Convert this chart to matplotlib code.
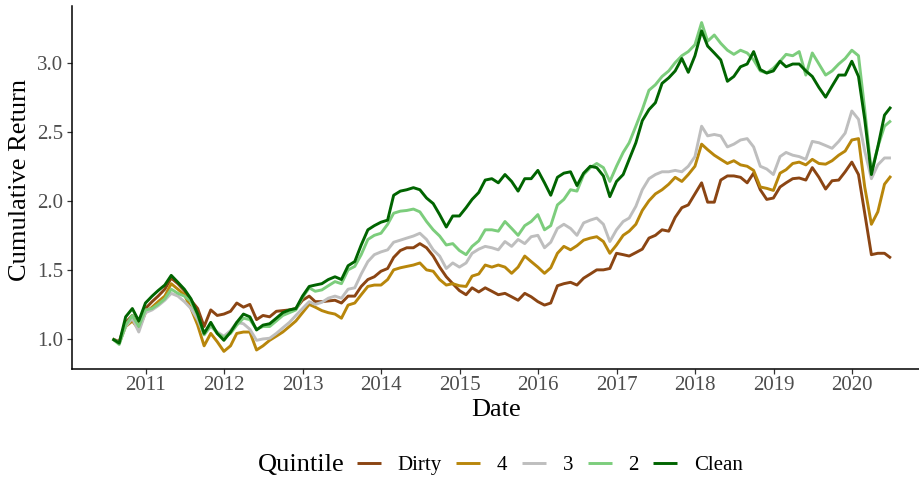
import matplotlib
matplotlib.use("Agg")
import matplotlib.pyplot as plt
import pandas as pd
from datetime import datetime

plt.rcParams['font.family'] = ['Liberation Serif', 'DejaVu Serif']

dates = pd.date_range('2010-07-31', periods=120, freq='ME')

series_names = ['Dirty', '4', '3', '2', 'Clean']

dirty = [1.00, 0.98, 1.12, 1.17, 1.10, 1.22, 1.27, 1.31, 1.36, 1.44, 1.40, 1.35,
         1.28, 1.22, 1.09, 1.21, 1.17, 1.18, 1.20, 1.26, 1.23, 1.25, 1.14, 1.17,
         1.16, 1.20, 1.205, 1.21, 1.22, 1.28, 1.31, 1.27, 1.27, 1.275, 1.28, 1.26,
         1.31, 1.31, 1.38, 1.43, 1.45, 1.49, 1.51, 1.59, 1.64, 1.66, 1.66, 1.69,
         1.66, 1.60, 1.52, 1.45, 1.40, 1.35, 1.32, 1.37, 1.34, 1.37, 1.345, 1.32,
         1.33, 1.305, 1.28, 1.33, 1.305, 1.27, 1.245, 1.26, 1.385, 1.40, 1.41, 1.39,
         1.44, 1.47, 1.50, 1.50, 1.51, 1.62, 1.61, 1.60, 1.625, 1.65, 1.73, 1.75,
         1.79, 1.78, 1.88, 1.95, 1.97, 2.05, 2.13, 1.99, 1.99, 2.15, 2.18, 2.18,
         2.17, 2.13, 2.20, 2.08, 2.01, 2.02, 2.10, 2.13, 2.16, 2.165, 2.15, 2.24,
         2.17, 2.085, 2.145, 2.15, 2.21, 2.28, 2.19, 1.91, 1.61, 1.62, 1.62, 1.585]

q4 = [1.00, 0.97, 1.09, 1.13, 1.07, 1.19, 1.23, 1.27, 1.31, 1.40, 1.36, 1.32,
      1.22, 1.10, 0.95, 1.04, 0.98, 0.91, 0.95, 1.04, 1.05, 1.05, 0.92, 0.95,
      0.99, 1.02, 1.05, 1.09, 1.13, 1.19, 1.25, 1.23, 1.205, 1.19, 1.18, 1.15,
      1.245, 1.26, 1.32, 1.38, 1.39, 1.39, 1.43, 1.50, 1.515, 1.525, 1.535, 1.55,
      1.50, 1.49, 1.43, 1.39, 1.40, 1.385, 1.38, 1.455, 1.47, 1.535, 1.52, 1.535,
      1.52, 1.475, 1.52, 1.60, 1.56, 1.52, 1.475, 1.515, 1.62, 1.67, 1.645, 1.675,
      1.715, 1.73, 1.74, 1.705, 1.62, 1.68, 1.75, 1.78, 1.83, 1.93, 2.00, 2.05,
      2.08, 2.12, 2.17, 2.14, 2.19, 2.25, 2.41, 2.37, 2.33, 2.30, 2.27, 2.29,
      2.26, 2.25, 2.22, 2.10, 2.09, 2.075, 2.20, 2.225, 2.27, 2.28, 2.26, 2.30,
      2.27, 2.265, 2.29, 2.33, 2.36, 2.44, 2.45, 2.10, 1.83, 1.92, 2.12, 2.18]

q3 = [1.00, 0.97, 1.09, 1.15, 1.05, 1.19, 1.21, 1.24, 1.28, 1.33, 1.31, 1.27,
      1.22, 1.14, 1.03, 1.09, 1.05, 1.02, 1.06, 1.12, 1.11, 1.07, 0.99, 1.00,
      1.005, 1.04, 1.08, 1.12, 1.17, 1.22, 1.27, 1.25, 1.265, 1.295, 1.31, 1.295,
      1.36, 1.37, 1.47, 1.56, 1.61, 1.63, 1.645, 1.70, 1.715, 1.73, 1.745, 1.765,
      1.72, 1.645, 1.60, 1.51, 1.55, 1.52, 1.55, 1.62, 1.65, 1.67, 1.66, 1.645,
      1.705, 1.67, 1.72, 1.69, 1.74, 1.75, 1.66, 1.70, 1.80, 1.83, 1.80, 1.75,
      1.84, 1.86, 1.875, 1.83, 1.705, 1.79, 1.85, 1.875, 1.96, 2.08, 2.16, 2.19,
      2.21, 2.21, 2.22, 2.21, 2.25, 2.32, 2.54, 2.47, 2.48, 2.47, 2.39, 2.41,
      2.44, 2.45, 2.39, 2.25, 2.23, 2.19, 2.32, 2.35, 2.33, 2.32, 2.30, 2.43,
      2.42, 2.40, 2.38, 2.43, 2.49, 2.65, 2.59, 2.36, 2.16, 2.26, 2.31, 2.31]

q2 = [1.00, 0.96, 1.10, 1.17, 1.09, 1.21, 1.22, 1.25, 1.29, 1.36, 1.33, 1.31,
      1.27, 1.17, 1.03, 1.10, 1.04, 1.01, 1.04, 1.10, 1.15, 1.14, 1.07, 1.09,
      1.09, 1.13, 1.17, 1.19, 1.21, 1.30, 1.37, 1.345, 1.355, 1.385, 1.415, 1.40,
      1.50, 1.525, 1.61, 1.72, 1.75, 1.765, 1.83, 1.91, 1.925, 1.93, 1.94, 1.92,
      1.85, 1.79, 1.745, 1.68, 1.69, 1.64, 1.61, 1.67, 1.71, 1.79, 1.79, 1.78,
      1.85, 1.80, 1.75, 1.82, 1.85, 1.90, 1.79, 1.82, 1.97, 2.01, 2.08, 2.07,
      2.19, 2.24, 2.27, 2.24, 2.14, 2.25, 2.35, 2.42, 2.54, 2.66, 2.80, 2.84,
      2.90, 2.94, 3.00, 3.05, 3.08, 3.13, 3.29, 3.155, 3.20, 3.14, 3.09, 3.06,
      3.09, 3.07, 3.02, 2.94, 2.925, 2.96, 3.01, 3.06, 3.05, 3.08, 2.91, 3.07,
      2.99, 2.91, 2.94, 2.99, 3.03, 3.09, 3.05, 2.66, 2.21, 2.39, 2.54, 2.58]

clean = [1.00, 0.97, 1.16, 1.22, 1.13, 1.26, 1.31, 1.35, 1.39, 1.46, 1.41, 1.36,
         1.29, 1.18, 1.04, 1.12, 1.04, 0.99, 1.05, 1.12, 1.18, 1.16, 1.065, 1.10,
         1.11, 1.15, 1.19, 1.21, 1.22, 1.31, 1.38, 1.39, 1.40, 1.43, 1.45, 1.43,
         1.53, 1.56, 1.68, 1.79, 1.82, 1.845, 1.86, 2.04, 2.07, 2.08, 2.095, 2.08,
         2.02, 1.98, 1.90, 1.81, 1.89, 1.89, 1.95, 2.01, 2.06, 2.15, 2.16, 2.13,
         2.19, 2.14, 2.07, 2.16, 2.16, 2.22, 2.13, 2.04, 2.17, 2.20, 2.21, 2.11,
         2.20, 2.25, 2.24, 2.18, 2.03, 2.14, 2.19, 2.30, 2.42, 2.58, 2.66, 2.71,
         2.85, 2.89, 2.94, 3.03, 2.93, 3.05, 3.23, 3.12, 3.07, 3.02, 2.865, 2.90,
         2.97, 2.99, 3.08, 2.95, 2.925, 2.94, 3.01, 2.97, 2.99, 2.99, 2.94, 2.90,
         2.82, 2.75, 2.83, 2.91, 2.91, 3.01, 2.90, 2.59, 2.19, 2.39, 2.62, 2.68]

colors = ['#8B4513', '#B8860B', '#BEBEBE', '#7CCD7C', '#006400']
x_ticks = list(range(2011, 2021))
y_ticks = [1.0, 1.5, 2.0, 2.5, 3.0]


def year_to_date(y):
    yr = int(y)
    a = datetime(yr, 1, 1)
    b = datetime(yr + 1, 1, 1)
    return a + (b - a) * (y - yr)


W, H = 920, 483
fig = plt.figure(figsize=(W / 100, H / 100), dpi=100)
left, right, top, bottom = 72, 920, 6, 368.5
ax = fig.add_axes([left / W, (H - bottom) / H, (right - left) / W, (bottom - top) / H])

handles = []
for vals, name, col in zip([dirty, q4, q3, q2, clean], series_names, colors):
    h, = ax.plot(dates, vals, color=col, lw=2.1, solid_joinstyle='round',
                 solid_capstyle='butt', label=name)
    handles.append(h)

ax.set_xlim(year_to_date(2010.061), year_to_date(2020.864))
ax.set_ylim(0.786, 3.41)
ax.set_xticks([datetime(y, 1, 1) for y in x_ticks])
ax.set_xticklabels([str(y) for y in x_ticks])
ax.set_yticks(y_ticks)
ax.set_yticklabels([f'{v:.1f}' for v in y_ticks])

for s in ['top', 'right']:
    ax.spines[s].set_visible(False)
for s in ['left', 'bottom']:
    ax.spines[s].set_linewidth(1.1)
    ax.spines[s].set_color('black')

ax.tick_params(axis='both', length=3.5, width=0.9, color='#333333',
               labelcolor='#4D4D4D', labelsize=15)
ax.tick_params(axis='x', pad=2)
ax.tick_params(axis='y', pad=3)

ax.set_xlabel('Date', fontsize=19, color='black')
ax.xaxis.set_label_coords(0.5, (bottom - 410) / (bottom - top))
ax.xaxis.label.set_va('center')
ax.set_ylabel('Cumulative Return', fontsize=19, color='black')
ax.yaxis.set_label_coords((20 - left) / (right - left), 0.52)
ax.yaxis.label.set_va('center')

fig.text(258 / W, (H - 465) / H, 'Quintile', fontsize=19, ha='left', va='center')
fig.legend(handles=handles, labels=series_names, loc='center left',
           bbox_to_anchor=(357 / W, (H - 465) / H), ncol=5, frameon=False,
           fontsize=15, handlelength=1.15, handletextpad=0.8,
           columnspacing=0.7, borderpad=0, borderaxespad=0)

fig.savefig('out.png', dpi=100)
